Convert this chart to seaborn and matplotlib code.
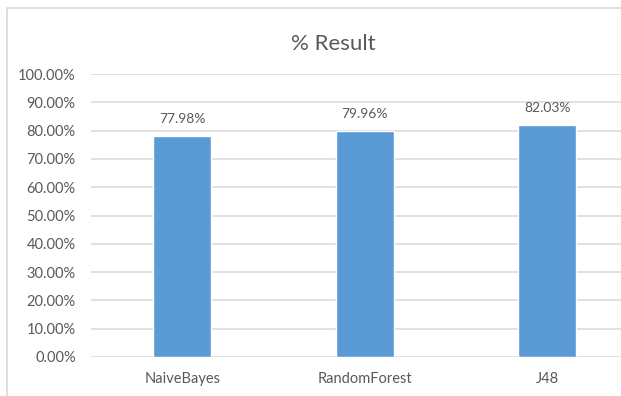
import matplotlib
matplotlib.use("Agg")
import matplotlib.pyplot as plt
import seaborn as sns
import pandas as pd
from matplotlib.patches import Rectangle
from matplotlib.ticker import FuncFormatter

categories = ["NaiveBayes", "RandomForest", "J48"]
values = [77.98, 79.96, 82.03]
title = "% Result"

df = pd.DataFrame({"cat": categories, "val": values})

sns.set_theme(style="white")
plt.rcParams['font.family'] = ['Lato', 'DejaVu Sans']

W, H = 621, 396
fig = plt.figure(figsize=(W / 100, H / 100), dpi=100)
fig.patch.set_facecolor("white")

# outer chart frame (partially cropped)
fig.patches.append(Rectangle((7 / W, -0.1), 1.2, 1 - 8 / H + 0.1, transform=fig.transFigure,
                             fill=False, edgecolor="#D9D9D9", linewidth=1.2))

left, right = 91, 621
bottom, top = 357, 74
ax = fig.add_axes([left / W, 1 - bottom / H, (right - left) / W, (bottom - top) / H])
ax.set_facecolor("none")

sns.barplot(data=df, x="cat", y="val", color="#5B9BD5", width=0.32, ax=ax,
            saturation=1, zorder=3)

span = 182.5
ax.set_xlim(-0.5, -0.5 + (right - left) / span)
ax.set_ylim(0, 100)
ax.set_yticks(range(0, 101, 10))
ax.yaxis.set_major_formatter(FuncFormatter(lambda v, p: f"{v:.2f}%"))
ax.grid(axis="y", color="#D9D9D9", linewidth=1.1, zorder=0)
for s in ax.spines.values():
    s.set_visible(False)
ax.tick_params(axis="y", length=0, pad=11, labelsize=10.5, labelcolor="#595959")
ax.tick_params(axis="x", length=0, pad=11, labelsize=10.5, labelcolor="#595959")
ax.set_xlabel("")
ax.set_ylabel("")

for i, v in enumerate(values):
    ax.annotate(f"{v:.2f}%", (i, v), xytext=(0, 8), textcoords="offset points",
                ha="center", va="bottom", fontsize=10, color="#595959")

fig.text(333 / W, 1 - 44 / H, title, ha="center", va="center", fontsize=16, color="#595959")

fig.savefig("out.png", dpi=100)
